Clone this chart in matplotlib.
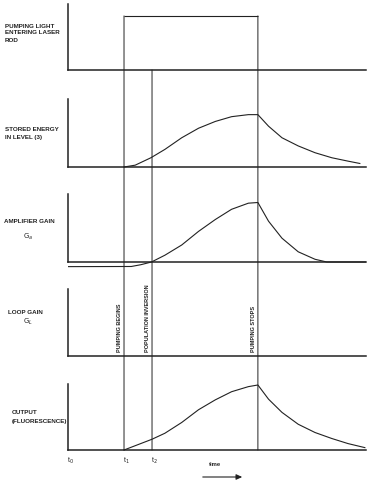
import matplotlib
matplotlib.use("Agg")
import matplotlib.pyplot as plt
from matplotlib.patches import ConnectionPatch, FancyArrowPatch

# ---------------- data (time units: t0 = 0, t1 = 1) ----------------
t0, t1, t2, t_stop = 0.0, 1.0, 1.5, 3.39
t_end = 5.32
pump_level = 0.82

stored_t = [1.0, 1.20, 1.48, 1.73, 2.03, 2.33, 2.63, 2.92, 3.22, 3.39,
            3.58, 3.82, 4.11, 4.41, 4.71, 5.00, 5.21]
stored_v = [0.0, 0.027, 0.136, 0.259, 0.43, 0.57, 0.67, 0.74, 0.77, 0.77,
            0.60, 0.43, 0.31, 0.21, 0.136, 0.086, 0.052]

gain_t = [0.0, 1.13, 1.30, 1.49, 1.73, 2.03, 2.33, 2.63, 2.92, 3.22, 3.39,
          3.58, 3.82, 4.11, 4.41, 4.62, 5.32]
gain_v = [-0.068, -0.066, -0.04, 0.0, 0.10, 0.25, 0.45, 0.625, 0.775, 0.865, 0.875,
          0.60, 0.35, 0.15, 0.04, 0.0, 0.0]

output_t = [1.0, 1.5, 1.73, 2.03, 2.33, 2.63, 2.92, 3.22, 3.39,
            3.58, 3.82, 4.11, 4.41, 4.71, 5.00, 5.30]
output_v = [0.0, 0.163, 0.254, 0.417, 0.61, 0.76, 0.883, 0.96, 0.985,
            0.77, 0.57, 0.39, 0.265, 0.174, 0.097, 0.036]

tick_times = [t0, t1, t2]
tick_labels = ["t$_0$", "t$_1$", "t$_2$"]
event_times = [t1, t2, t_stop]
event_labels = ["PUMPING BEGINS", "POPULATION INVERSION", "PUMPING STOPS"]

# ---------------- layout ----------------
W, H = 374, 485
fig = plt.figure(figsize=(W / 100, H / 100), dpi=100)
fig.patch.set_facecolor("white")

INK = "#222222"
FONT = ["Liberation Sans", "DejaVu Sans"]

panel_px = [(5, 71), (100, 168), (195, 263), (290, 357), (385, 451)]
ax_left_px, ax_right_px = 68, 366
YMIN = -0.1

axes = []
for top, base in panel_px:
    hpx = (base - top) * (1 - YMIN)
    bottom_px = base + (base - top) * (-YMIN)
    ax = fig.add_axes([ax_left_px / W, 1 - bottom_px / H,
                       (ax_right_px - ax_left_px) / W, hpx / H])
    ax.set_xlim(0, t_end)
    ax.set_ylim(YMIN, 1.0)
    ax.patch.set_alpha(0)
    for s in ("top", "right"):
        ax.spines[s].set_visible(False)
    ax.spines["bottom"].set_position(("data", 0))
    ax.spines["left"].set_bounds(0, 1)
    for s in ("bottom", "left"):
        ax.spines[s].set_color(INK)
        ax.spines[s].set_linewidth(1.1)
    ax.set_xticks([])
    ax.set_yticks([])
    axes.append(ax)

ax1, ax2, ax3, ax4, ax5 = axes

# pump pulse top
ax1.hlines(pump_level, t1, t_stop, color=INK, lw=0.8)

# curves
for ax, tt, vv in ((ax2, stored_t, stored_v), (ax3, gain_t, gain_v), (ax5, output_t, output_v)):
    ax.plot(tt, vv, color=INK, lw=0.8, solid_joinstyle="round")

# vertical event lines spanning all panels
for t in event_times:
    start_y = 0.0 if t == t2 else pump_level
    con = ConnectionPatch(xyA=(t, start_y), coordsA=ax1.transData,
                          xyB=(t, 0.0), coordsB=ax5.transData,
                          color=INK, lw=0.7)
    fig.add_artist(con)

# rotated event labels in loop-gain panel
for t, lab in zip(event_times, event_labels):
    ax4.annotate(lab, xy=(t, 0.0), xytext=(-1.5, 3.5), textcoords="offset points",
                 rotation=90, ha="right", va="bottom", fontsize=4.0, fontweight="bold",
                 family=FONT, color=INK, annotation_clip=False)

# time tick labels under the output panel
for t, lab in zip(tick_times, tick_labels):
    ax5.annotate(lab, xy=(t, 0.0), xytext=(1.5, -7), textcoords="offset points",
                 ha="center", va="center", fontsize=5, family=FONT, color=INK,
                 annotation_clip=False)

# left labels
def ftext(x, y, s, **kw):
    fig.text(x / W, 1 - y / H, s, fontsize=4.5, fontweight="bold", family=FONT,
             color=INK, va="center", ha="left", **kw)

ftext(5, 26, "PUMPING LIGHT")
ftext(5, 33, "ENTERING LASER")
ftext(5, 40, "ROD")
ftext(5, 130, "STORED ENERGY")
ftext(5, 137, "IN LEVEL (3)")
ftext(4, 222, "AMPLIFIER GAIN")
fig.text(28 / W, 1 - 237 / H, "G$_a$", fontsize=5, color=INK, ha="center", va="center")
ftext(8, 313, "LOOP GAIN")
fig.text(28 / W, 1 - 322 / H, "G$_L$", fontsize=5, color=INK, ha="center", va="center")
ftext(12, 413, "OUTPUT")
ftext(12, 422, "(FLUORESCENCE)")

# time arrow
fig.text(215 / W, 1 - 465 / H, "time", fontsize=4.2, fontweight="bold", family=FONT,
         color=INK, ha="center", va="center")
fig.add_artist(FancyArrowPatch(
    (200 / W, 1 - 478 / H), (245 / W, 1 - 478 / H), transform=fig.transFigure,
    arrowstyle="-|>,head_length=3.5,head_width=1.6", color=INK, lw=0.8))

fig.savefig("out.png", dpi=100, facecolor="white")
